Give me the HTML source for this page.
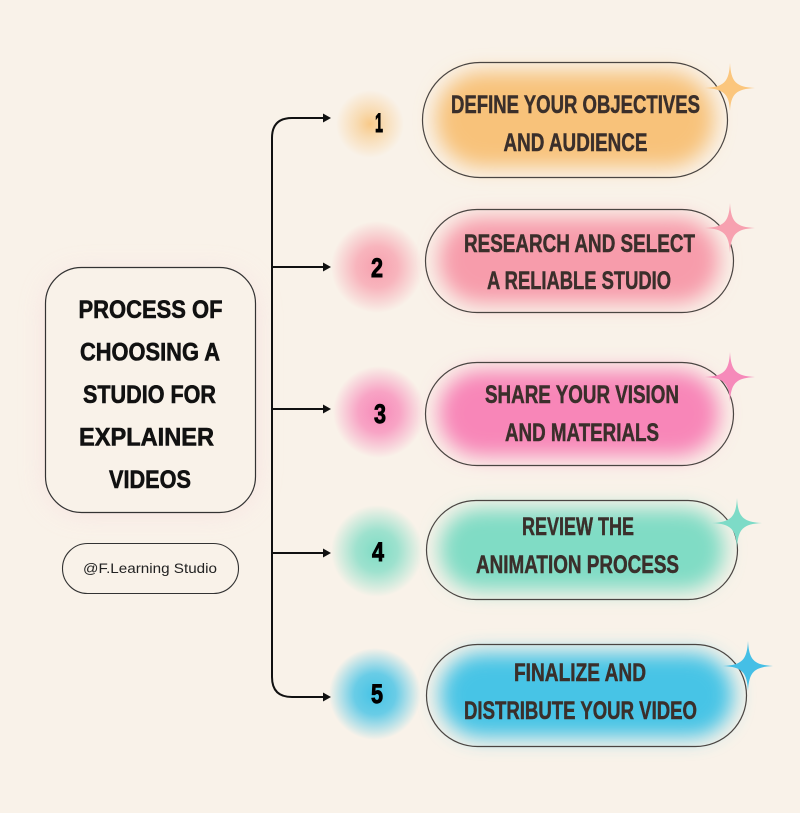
<!DOCTYPE html>
<html>
<head>
<meta charset="utf-8">
<style>
  html, body { margin:0; padding:0; background:#f9f2e9; }
  body { width:800px; height:813px; overflow:hidden; }
  svg { display:block; }
  .t { font-family:"Liberation Sans", sans-serif; font-weight:bold; font-size:25px; fill:#3a2f2b; stroke:#3a2f2b; stroke-width:0.5; }
  .h { font-family:"Liberation Sans", sans-serif; font-weight:bold; font-size:25px; fill:#111; stroke:#111; stroke-width:0.6; }
  .n { font-family:"Liberation Sans", sans-serif; font-weight:bold; font-size:27px; fill:#000; stroke:#000; stroke-width:0.9; }
  .s { font-family:"Liberation Sans", sans-serif; font-size:14px; fill:#222; }
</style>
</head>
<body>
<svg width="800" height="813" viewBox="0 0 800 813" xmlns="http://www.w3.org/2000/svg">
  <defs>
    <filter id="b10" x="-30%" y="-60%" width="160%" height="220%"><feGaussianBlur stdDeviation="10"/></filter>
    <filter id="b14" x="-30%" y="-60%" width="160%" height="220%"><feGaussianBlur stdDeviation="14"/></filter>
    <radialGradient id="g1"><stop offset="0" stop-color="#f8c57e" stop-opacity="0.9"/><stop offset="0.4" stop-color="#f8c57e" stop-opacity="0.5"/><stop offset="1" stop-color="#f8c57e" stop-opacity="0"/></radialGradient>
    <radialGradient id="g2"><stop offset="0" stop-color="#f7a0ae" stop-opacity="1"/><stop offset="0.45" stop-color="#f7a0ae" stop-opacity="0.75"/><stop offset="1" stop-color="#f7a0ae" stop-opacity="0"/></radialGradient>
    <radialGradient id="g3"><stop offset="0" stop-color="#f78ab9" stop-opacity="1"/><stop offset="0.45" stop-color="#f78ab9" stop-opacity="0.75"/><stop offset="1" stop-color="#f78ab9" stop-opacity="0"/></radialGradient>
    <radialGradient id="g4"><stop offset="0" stop-color="#7fdcc5" stop-opacity="1"/><stop offset="0.45" stop-color="#7fdcc5" stop-opacity="0.75"/><stop offset="1" stop-color="#7fdcc5" stop-opacity="0"/></radialGradient>
    <radialGradient id="g5"><stop offset="0" stop-color="#45c3e6" stop-opacity="1"/><stop offset="0.45" stop-color="#45c3e6" stop-opacity="0.8"/><stop offset="1" stop-color="#45c3e6" stop-opacity="0"/></radialGradient>
  </defs>

  <rect x="0" y="0" width="800" height="813" fill="#f9f2e9"/>

  <!-- Title box glow + box -->
  <rect x="48" y="275" width="205" height="235" rx="35" fill="#f6cdd4" opacity="0.55" filter="url(#b14)"/>
  <rect x="45.5" y="267.5" width="210" height="245" rx="36" fill="#f9f2e9" stroke="#333" stroke-width="1.2"/>
  <text class="h" x="150.5" y="318" text-anchor="middle" textLength="144" lengthAdjust="spacingAndGlyphs">PROCESS OF</text>
  <text class="h" x="150" y="360.5" text-anchor="middle" textLength="140" lengthAdjust="spacingAndGlyphs">CHOOSING A</text>
  <text class="h" x="149.5" y="403" text-anchor="middle" textLength="133" lengthAdjust="spacingAndGlyphs">STUDIO FOR</text>
  <text class="h" x="146.5" y="445.5" text-anchor="middle" textLength="135" lengthAdjust="spacingAndGlyphs">EXPLAINER</text>
  <text class="h" x="150" y="488" text-anchor="middle" textLength="82" lengthAdjust="spacingAndGlyphs">VIDEOS</text>

  <!-- Handle pill -->
  <rect x="62.5" y="543.5" width="176" height="50" rx="25" fill="none" stroke="#333" stroke-width="1.1"/>
  <text class="s" x="150" y="573" text-anchor="middle" textLength="134" lengthAdjust="spacingAndGlyphs">@F.Learning Studio</text>

  <!-- Connectors -->
  <g fill="none" stroke="#111" stroke-width="2">
    <path d="M 325 118 H 292 Q 272 118 272 138 V 677 Q 272 697 292 697 H 325"/>
    <path d="M 272 267 H 325"/>
    <path d="M 272 409 H 325"/>
    <path d="M 272 553 H 325"/>
  </g>
  <g fill="#111">
    <polygon points="331,118 323,113.5 323,122.5"/>
    <polygon points="331,267 323,262.5 323,271.5"/>
    <polygon points="331,409 323,404.5 323,413.5"/>
    <polygon points="331,553 323,548.5 323,557.5"/>
    <polygon points="331,697 323,692.5 323,701.5"/>
  </g>

  <!-- Number glows -->
  <circle cx="370" cy="124" r="34" fill="url(#g1)"/>
  <circle cx="377" cy="267" r="46" fill="url(#g2)"/>
  <circle cx="379" cy="412" r="46" fill="url(#g3)"/>
  <circle cx="377" cy="551" r="46" fill="url(#g4)"/>
  <circle cx="375" cy="694" r="46" fill="url(#g5)"/>

  <!-- Numbers -->
  <text class="n" x="379" y="132" text-anchor="middle" textLength="8" lengthAdjust="spacingAndGlyphs">1</text>
  <text class="n" x="377" y="277" text-anchor="middle" textLength="12" lengthAdjust="spacingAndGlyphs">2</text>
  <text class="n" x="380" y="423" text-anchor="middle" textLength="12" lengthAdjust="spacingAndGlyphs">3</text>
  <text class="n" x="378" y="561" text-anchor="middle" textLength="12" lengthAdjust="spacingAndGlyphs">4</text>
  <text class="n" x="377" y="703" text-anchor="middle" textLength="12" lengthAdjust="spacingAndGlyphs">5</text>

  <!-- Pill glows -->
  <rect x="436" y="72" width="278" height="95" rx="47" fill="#f8c27a" filter="url(#b10)"/>
  <rect x="439" y="218" width="280" height="85" rx="42" fill="#f79cab" filter="url(#b10)"/>
  <rect x="439" y="371" width="280" height="85" rx="42" fill="#f886b8" filter="url(#b10)"/>
  <rect x="440" y="509" width="284" height="81" rx="40" fill="#80dcc5" filter="url(#b10)"/>
  <rect x="440" y="653" width="293" height="84" rx="42" fill="#47c4e6" filter="url(#b10)"/>

  <!-- Pill outlines -->
  <g fill="none" stroke="#4a4542" stroke-width="1.2">
    <rect x="422.5" y="62.5" width="305" height="115" rx="57.5"/>
    <rect x="425.5" y="209.5" width="308" height="103" rx="51.5"/>
    <rect x="425.5" y="362.5" width="308" height="103" rx="51.5"/>
    <rect x="426.5" y="500.5" width="311" height="99" rx="49.5"/>
    <rect x="426.5" y="644.5" width="320" height="102" rx="51"/>
  </g>

  <!-- Pill text -->
  <text class="t" x="575.5" y="113" text-anchor="middle" textLength="249" lengthAdjust="spacingAndGlyphs">DEFINE YOUR OBJECTIVES</text>
  <text class="t" x="575.5" y="151" text-anchor="middle" textLength="144" lengthAdjust="spacingAndGlyphs">AND AUDIENCE</text>
  <text class="t" x="579.5" y="252" text-anchor="middle" textLength="231" lengthAdjust="spacingAndGlyphs">RESEARCH AND SELECT</text>
  <text class="t" x="579" y="289" text-anchor="middle" textLength="184" lengthAdjust="spacingAndGlyphs">A RELIABLE STUDIO</text>
  <text class="t" x="582" y="403" text-anchor="middle" textLength="194" lengthAdjust="spacingAndGlyphs">SHARE YOUR VISION</text>
  <text class="t" x="582" y="441" text-anchor="middle" textLength="154" lengthAdjust="spacingAndGlyphs">AND MATERIALS</text>
  <text class="t" x="578" y="535" text-anchor="middle" textLength="112" lengthAdjust="spacingAndGlyphs">REVIEW THE</text>
  <text class="t" x="577.5" y="573" text-anchor="middle" textLength="203" lengthAdjust="spacingAndGlyphs">ANIMATION PROCESS</text>
  <text class="t" x="580" y="681" text-anchor="middle" textLength="132" lengthAdjust="spacingAndGlyphs">FINALIZE AND</text>
  <text class="t" x="580.5" y="719" text-anchor="middle" textLength="233" lengthAdjust="spacingAndGlyphs">DISTRIBUTE YOUR VIDEO</text>

  <!-- Sparkles (thin concave 4-point stars) -->
  <g transform="translate(730,88)"><path d="M0 -25 C1 -6 6 -1 25 0 C6 1 1 6 0 23 C-1 6 -6 1 -25 0 C-6 -1 -1 -6 0 -25 Z" fill="#fbc67d"/></g>
  <g transform="translate(730,228)"><path d="M0 -25 C1 -6 6 -1 25 0 C6 1 1 6 0 25 C-1 6 -6 1 -25 0 C-6 -1 -1 -6 0 -25 Z" fill="#f7a1b0"/></g>
  <g transform="translate(730,377)"><path d="M0 -25 C1 -6 6 -1 25 0 C6 1 1 6 0 25 C-1 6 -6 1 -25 0 C-6 -1 -1 -6 0 -25 Z" fill="#f68aba"/></g>
  <g transform="translate(737,523)"><path d="M0 -25 C1 -6 6 -1 25 0 C6 1 1 6 0 25 C-1 6 -6 1 -25 0 C-6 -1 -1 -6 0 -25 Z" fill="#7ddbc7"/></g>
  <g transform="translate(748,666)"><path d="M0 -25 C1 -6 6 -1 25 0 C6 1 1 6 0 25 C-1 6 -6 1 -25 0 C-6 -1 -1 -6 0 -25 Z" fill="#45bfe6"/></g>
</svg>
</body>
</html>
